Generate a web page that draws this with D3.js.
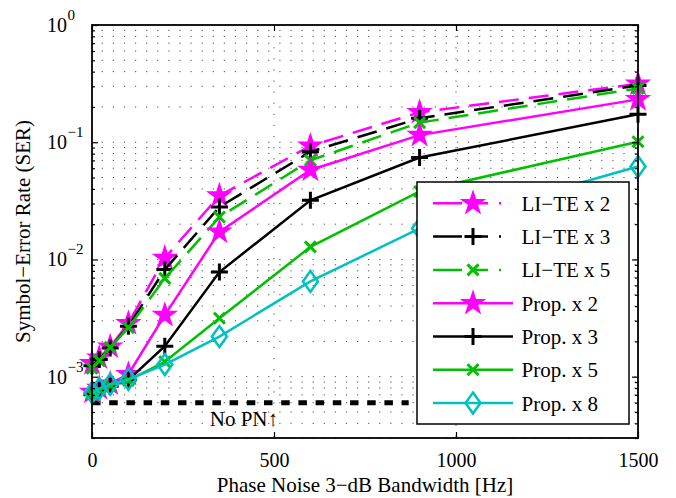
<!DOCTYPE html>
<html>
<head>
<meta charset="utf-8">
<script src="https://cdn.jsdelivr.net/npm/d3@7"></script>
<style>
  body { margin: 0; background: #fff; }
  text { font-family: "Liberation Serif", "Times New Roman", serif; fill: #000; }
</style>
</head>
<body>
<div class="chart"></div>
<script>
var svgWidth = 676;
var svgHeight = 498;

var margin = { top: 25, right: 38, bottom: 60, left: 92 };
var width = svgWidth - margin.left - margin.right;
var height = svgHeight - margin.top - margin.bottom;

// Data
var bandwidth = [0, 20, 50, 100, 200, 350, 600, 900, 1500];
var liteX2 = [1.30e-3, 1.45e-3, 1.80e-3, 2.85e-3, 1.03e-2, 3.5e-2, 9.3e-2, 0.18, 0.315];
var liteX3 = [1.24e-3, 1.40e-3, 1.76e-3, 2.70e-3, 8.2e-3, 2.8e-2, 8.3e-2, 0.16, 0.305];
var liteX5 = [1.18e-3, 1.37e-3, 1.78e-3, 2.62e-3, 6.9e-3, 2.3e-2, 7.0e-2, 0.147, 0.288];
var propX2 = [7.4e-4, 8.0e-4, 8.7e-4, 1.05e-3, 3.35e-3, 1.72e-2, 5.8e-2, 0.115, 0.232];
var propX3 = [7.0e-4, 7.6e-4, 8.3e-4, 9.4e-4, 1.82e-3, 7.8e-3, 3.2e-2, 7.4e-2, 0.173];
var propX5 = [7.1e-4, 7.7e-4, 8.4e-4, 9.3e-4, 1.34e-3, 3.15e-3, 1.28e-2, 3.8e-2, 0.101];
var propX8 = [7.3e-4, 7.9e-4, 8.6e-4, 9.5e-4, 1.27e-3, 2.2e-3, 6.5e-3, 1.84e-2, 0.062];
var noPN = 6.0e-4;
var noPNEnd = 870;

var xTicks = [0, 500, 1000, 1500];
var yTicks = [1e-3, 1e-2, 1e-1, 1];
var yTickExp = ["\u22123", "\u22122", "\u22121", "0"];

var series = [
  { name: "LI\u2212TE x 2", values: liteX2, color: "#ff00ff", marker: "star", dashed: true },
  { name: "LI\u2212TE x 3", values: liteX3, color: "#000000", marker: "plus", dashed: true },
  { name: "LI\u2212TE x 5", values: liteX5, color: "#00c000", marker: "cross", dashed: true },
  { name: "Prop. x 2", values: propX2, color: "#ff00ff", marker: "star", dashed: false },
  { name: "Prop. x 3", values: propX3, color: "#000000", marker: "plus", dashed: false },
  { name: "Prop. x 5", values: propX5, color: "#00c000", marker: "cross", dashed: false },
  { name: "Prop. x 8", values: propX8, color: "#00c0c0", marker: "diamond", dashed: false }
];

var svg = d3.select(".chart")
  .append("svg")
  .attr("width", svgWidth)
  .attr("height", svgHeight);

var chartGroup = svg.append("g")
  .attr("transform", `translate(${margin.left}, ${margin.top})`);

// Scales
var xScale = d3.scaleLinear().domain([0, 1500]).range([0, width]);
var yScale = d3.scaleLog().domain([3e-4, 1]).range([height, 0]);

// minor log values
var yMinor = [];
[-4, -3, -2, -1].forEach(function(k) {
  for (var m = 2; m <= 9; m++) {
    var v = m * Math.pow(10, k);
    if (v > 3e-4 && v < 1) yMinor.push(v);
  }
});

// Grid (dotted)
var grid = chartGroup.append("g").attr("class", "grid");
grid.selectAll("line.h")
  .data(yMinor.concat(yTicks.slice(0, 3)))
  .enter().append("line")
  .attr("x1", 0).attr("x2", width)
  .attr("y1", d => yScale(d)).attr("y2", d => yScale(d))
  .attr("stroke", "#000").attr("stroke-width", 1)
  .attr("stroke-dasharray", "1.2,9.9")
  .attr("stroke-dashoffset", 1.4)
  .attr("opacity", 0.7);
grid.selectAll("line.v")
  .data([500, 1000])
  .enter().append("line")
  .attr("x1", d => xScale(d)).attr("x2", d => xScale(d))
  .attr("y1", 0).attr("y2", height)
  .attr("stroke", "#000").attr("stroke-width", 1)
  .attr("stroke-dasharray", "1.2,9.9")
  .attr("opacity", 0.7);

// No PN reference line
chartGroup.append("line")
  .attr("x1", xScale(0)).attr("x2", xScale(noPNEnd))
  .attr("y1", yScale(noPN)).attr("y2", yScale(noPN))
  .attr("stroke", "#000").attr("stroke-width", 5)
  .attr("stroke-dasharray", "8.5,8.7");

chartGroup.append("text")
  .attr("x", xScale(500) + 4)
  .attr("y", yScale(noPN) + 23)
  .attr("text-anchor", "end")
  .style("font-size", "21px")
  .text("No PN\u2191");

// Marker shapes
function markerPath(type) {
  if (type === "star") return d3.symbol(d3.symbolStar, 150)();
  if (type === "plus") return "M-8.5,0H8.5M0,-8.5V8.5";
  if (type === "cross") return "M-5.5,-5.5L5.5,5.5M-5.5,5.5L5.5,-5.5";
  return "M0,-10.5L7.5,0L0,10.5L-7.5,0Z";
}

function drawMarker(sel, s) {
  sel.append("path")
    .attr("d", markerPath(s.marker))
    .attr("fill", s.marker === "star" ? s.color : "none")
    .attr("stroke", s.color)
    .attr("stroke-width", s.marker === "star" ? 1.5 : (s.marker === "diamond" ? 2.5 : 3))
    .attr("stroke-linejoin", "miter");
}

var line = d3.line()
  .x((d, i) => xScale(bandwidth[i]))
  .y(d => yScale(d));

series.forEach(function(s) {
  var g = chartGroup.append("g");
  g.append("path")
    .datum(s.values)
    .attr("d", line)
    .attr("fill", "none")
    .attr("stroke", s.color)
    .attr("stroke-width", 2.5)
    .attr("stroke-dasharray", s.dashed ? "20,10" : null);
  g.selectAll("g.m")
    .data(s.values)
    .enter().append("g")
    .attr("transform", (d, i) => `translate(${xScale(bandwidth[i])},${yScale(d)})`)
    .each(function() { drawMarker(d3.select(this), s); });
});

// Axes (ticks inward)
var axisStyle = function(g) {
  g.select(".domain").remove();
  g.selectAll(".tick line").attr("stroke", "#000").attr("stroke-width", 1.2);
};

chartGroup.append("g")
  .attr("transform", `translate(0, ${height})`)
  .call(d3.axisBottom(xScale).tickValues(xTicks).tickSize(-6).tickPadding(14.5).tickFormat(d3.format("d")))
  .call(axisStyle)
  .call(g => g.selectAll(".tick text").style("font-size", "20px")
    .style("font-family", "Liberation Serif"));

chartGroup.append("g")
  .call(d3.axisTop(xScale).tickValues(xTicks).tickSize(-6).tickFormat(""))
  .call(axisStyle);

chartGroup.append("g")
  .call(d3.axisLeft(yScale).tickValues(yTicks).tickSize(-6).tickFormat(""))
  .call(axisStyle);
chartGroup.append("g")
  .call(d3.axisLeft(yScale).tickValues(yMinor).tickSize(-3).tickFormat(""))
  .call(axisStyle);
chartGroup.append("g")
  .attr("transform", `translate(${width}, 0)`)
  .call(d3.axisRight(yScale).tickValues(yTicks).tickSize(-6).tickFormat(""))
  .call(axisStyle);
chartGroup.append("g")
  .attr("transform", `translate(${width}, 0)`)
  .call(d3.axisRight(yScale).tickValues(yMinor).tickSize(-3).tickFormat(""))
  .call(axisStyle);

// y tick labels 10^k
var yLab = chartGroup.append("g").selectAll("g")
  .data(yTicks)
  .enter().append("g")
  .attr("transform", d => `translate(-25, ${yScale(d)})`);
yLab.append("text")
  .attr("text-anchor", "end")
  .attr("y", 7)
  .style("font-size", "20px")
  .text("10");
yLab.append("text")
  .attr("x", 0.5)
  .attr("y", -5)
  .style("font-size", "15px")
  .text((d, i) => yTickExp[i]);

// Box
chartGroup.append("rect")
  .attr("width", width).attr("height", height)
  .attr("fill", "none").attr("stroke", "#000").attr("stroke-width", 1.8);

// Axis labels
chartGroup.append("text")
  .attr("transform", `translate(${width / 2}, ${height + 54})`)
  .attr("text-anchor", "middle")
  .style("font-size", "21px")
  .text("Phase Noise 3\u2212dB Bandwidth [Hz]");

chartGroup.append("text")
  .attr("transform", `translate(${-margin.left + 30}, ${height / 2}) rotate(-90)`)
  .attr("text-anchor", "middle")
  .style("font-size", "21px")
  .text("Symbol\u2212Error Rate (SER)");

// Legend
var legend = svg.append("g").attr("transform", "translate(417, 182)");
legend.append("rect")
  .attr("width", 212).attr("height", 242)
  .attr("fill", "#fff").attr("stroke", "#000").attr("stroke-width", 1.5);

var item = legend.selectAll("g.item")
  .data(series)
  .enter().append("g")
  .attr("transform", (d, i) => `translate(0, ${21.3 + i * 33.3})`);
item.append("line")
  .attr("x1", 16).attr("x2", 96)
  .attr("stroke", d => d.color).attr("stroke-width", 2.5)
  .attr("stroke-dasharray", d => d.dashed ? "29,9,17,11,2,100" : null);
item.append("g")
  .attr("transform", "translate(56, 0)")
  .each(function(d) { drawMarker(d3.select(this), d); });
item.append("text")
  .attr("x", 104.5)
  .attr("y", 7.5)
  .style("font-size", "21px")
  .text(d => d.name);
</script>
</body>
</html>
